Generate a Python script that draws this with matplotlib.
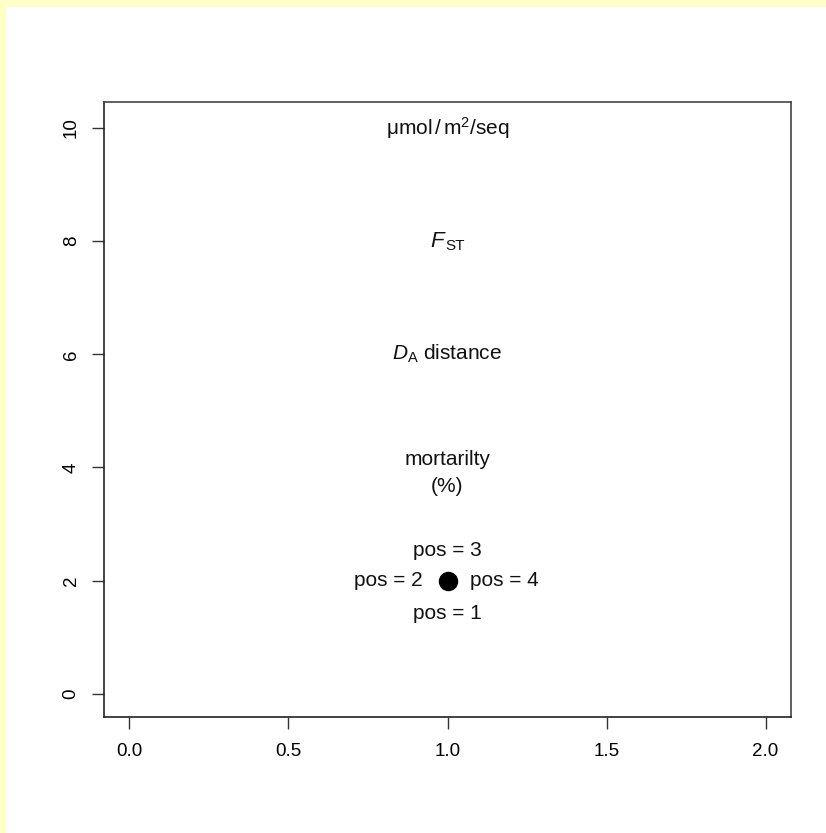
import matplotlib
matplotlib.use("Agg")
import matplotlib.pyplot as plt
from matplotlib.patches import Rectangle

plt.rcParams['font.family'] = ['Liberation Sans', 'DejaVu Sans']
plt.rcParams['mathtext.fontset'] = 'custom'
plt.rcParams['mathtext.rm'] = 'Liberation Sans'
plt.rcParams['mathtext.it'] = 'Liberation Sans:italic'
plt.rcParams['mathtext.bf'] = 'Liberation Sans:bold'

# data
label_x = [1, 1, 1, 1]
label_y = [10, 8, 6, 4]
label_texts = [r"$\mathrm{\mu mol\,/\,m^2/seq}$",
               r"$\mathit{F}_{\mathrm{ST}}$",
               r"$\mathit{D}_{\mathrm{A}}$ distance",
               "mortarilty\n(%)"]
point_x = [1]
point_y = [2]
pos_texts = ["pos = 1", "pos = 2", "pos = 3", "pos = 4"]
x_ticks = [0.0, 0.5, 1.0, 1.5, 2.0]
x_ticklabels = ["0.0", "0.5", "1.0", "1.5", "2.0"]
y_ticks = [0, 2, 4, 6, 8, 10]
y_ticklabels = ["0", "2", "4", "6", "8", "10"]

W, H = 826, 833
fig = plt.figure(figsize=(W / 100, H / 100), dpi=100)
fig.patch.set_facecolor('#FFFFC8')
bg = Rectangle((6 / W, 0), 1 - 6 / W, 1 - 7 / H, transform=fig.transFigure,
               facecolor='white', edgecolor='none', zorder=-10)
fig.add_artist(bg)

ax = fig.add_axes([104 / W, 1 - 717 / H, (791 - 104) / W, (717 - 102) / H])
ax.set_zorder(5)
ax.set_xlim(-0.08, 2.08)
ax.set_ylim(-0.41, 10.46)

fs = 15
col = '#111111'
for x, y, t in zip(label_x, label_y, label_texts):
    if y == 8:
        ax.annotate(r"$\mathit{F}$", (x, y), xytext=(-0.8, -4), textcoords='offset points',
                    ha='right', va='baseline', fontsize=fs + 1, color=col)
        ax.annotate("ST", (x, y), xytext=(-1.6, -6.5), textcoords='offset points',
                    ha='left', va='baseline', fontsize=fs - 4, color=col)
    elif y == 4:
        ax.annotate(t, (x, y), xytext=(0, -4), textcoords='offset points',
                    ha='center', va='center', fontsize=fs, color=col, linespacing=1.55)
    else:
        ax.text(x, y, t, ha='center', va='center', fontsize=fs, color=col)

ax.plot(point_x, point_y, 'o', color='black', markersize=13)

px, py = point_x[0], point_y[0]
kw = dict(fontsize=fs, color=col, textcoords='offset points')
ax.annotate(pos_texts[0], (px, py), xytext=(0, -24), ha='center', va='center', **kw)
ax.annotate(pos_texts[1], (px, py), xytext=(-18, 0), ha='right', va='center', **kw)
ax.annotate(pos_texts[2], (px, py), xytext=(0, 22), ha='center', va='center', **kw)
ax.annotate(pos_texts[3], (px, py), xytext=(16.5, 0), ha='left', va='center', **kw)

ax.set_xticks(x_ticks)
ax.set_xticklabels(x_ticklabels, fontsize=13.5)
ax.set_yticks(y_ticks)
ax.set_yticklabels(y_ticklabels, fontsize=13.5, rotation=90, va='center')
ax.tick_params(axis='both', length=8.5, width=1, color='#333333', direction='out')
ax.tick_params(axis='x', pad=10)
ax.tick_params(axis='y', pad=9)
for s in ax.spines.values():
    s.set_color('#444444')
    s.set_linewidth(1.2)
ax.spines['left'].set_color('#222222')
ax.spines['bottom'].set_color('#222222')

fig.savefig('out.png', dpi=100, facecolor=fig.get_facecolor())
